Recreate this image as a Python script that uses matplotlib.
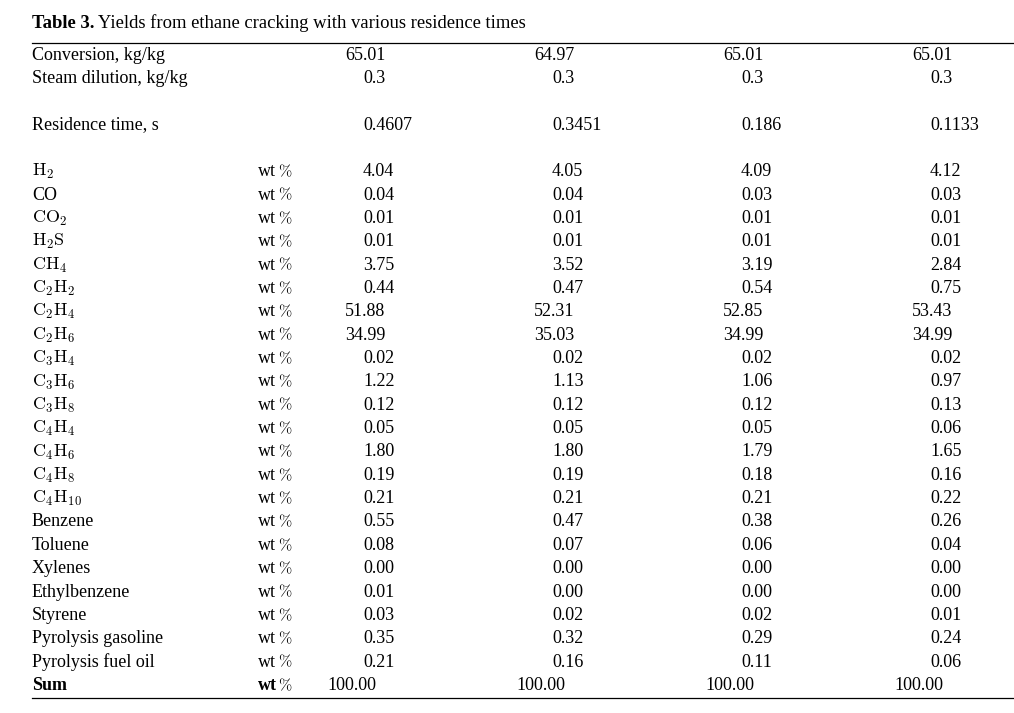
import matplotlib
matplotlib.use("Agg")
import matplotlib.pyplot as plt

plt.rcParams['font.family'] = ['Liberation Serif', 'DejaVu Serif']
plt.rcParams['mathtext.fontset'] = 'cm'

title_bold = "Table 3."
title_rest = " Yields from ethane cracking with various residence times"

conversion = ["65.01", "64.97", "65.01", "65.01"]
steam = ["0.3", "0.3", "0.3", "0.3"]
residence = ["0.4607", "0.3451", "0.186", "0.1133"]

species = [r"$\mathrm{H_2}$", "CO", r"$\mathrm{CO_2}$", r"$\mathrm{H_2S}$", r"$\mathrm{CH_4}$",
           r"$\mathrm{C_2H_2}$", r"$\mathrm{C_2H_4}$", r"$\mathrm{C_2H_6}$", r"$\mathrm{C_3H_4}$",
           r"$\mathrm{C_3H_6}$", r"$\mathrm{C_3H_8}$", r"$\mathrm{C_4H_4}$", r"$\mathrm{C_4H_6}$",
           r"$\mathrm{C_4H_8}$", r"$\mathrm{C_4H_{10}}$", "Benzene", "Toluene", "Xylenes",
           "Ethylbenzene", "Styrene", "Pyrolysis gasoline", "Pyrolysis fuel oil"]

col1 = ["4.04", "0.04", "0.01", "0.01", "3.75", "0.44", "51.88", "34.99", "0.02", "1.22", "0.12",
        "0.05", "1.80", "0.19", "0.21", "0.55", "0.08", "0.00", "0.01", "0.03", "0.35", "0.21"]
col2 = ["4.05", "0.04", "0.01", "0.01", "3.52", "0.47", "52.31", "35.03", "0.02", "1.13", "0.12",
        "0.05", "1.80", "0.19", "0.21", "0.47", "0.07", "0.00", "0.00", "0.02", "0.32", "0.16"]
col3 = ["4.09", "0.03", "0.01", "0.01", "3.19", "0.54", "52.85", "34.99", "0.02", "1.06", "0.12",
        "0.05", "1.79", "0.18", "0.21", "0.38", "0.06", "0.00", "0.00", "0.02", "0.29", "0.11"]
col4 = ["4.12", "0.03", "0.01", "0.01", "2.84", "0.75", "53.43", "34.99", "0.02", "0.97", "0.13",
        "0.06", "1.65", "0.16", "0.22", "0.26", "0.04", "0.00", "0.00", "0.01", "0.24", "0.06"]
sums = ["100.00", "100.00", "100.00", "100.00"]

W, H = 1014, 713
fig = plt.figure(figsize=(W / 100, H / 100), dpi=100)
ax = fig.add_axes([0, 0, 1, 1])
ax.set_xlim(0, W)
ax.set_ylim(H, 0)
ax.axis('off')

FS = 13.0
FS_TITLE = 13.4
x_label = 32
x_unit = 258
x_pct = 278
col_x = [363, 552, 741, 930]
digit_shift = 18
y0 = 54
dy = 23.35
base_off = 5.5

def ry(i):
    return y0 + i * dy + base_off

def txt(x, y, s, **kw):
    kw.setdefault('fontsize', FS)
    return ax.text(x, y, s, ha='left', va='baseline', **kw)

def put_num(s, c, y):
    ndig = len(s.split('.')[0])
    txt(col_x[c] - digit_shift * (ndig - 1), y, s)

def put_unit(y, bold=False):
    txt(x_unit, y, "wt", fontweight='bold' if bold else 'normal')
    txt(x_pct, y, r"$\%$", fontsize=FS * 0.88)

# title
t1 = txt(x_label, 27.5, title_bold, fontweight='bold', fontsize=FS_TITLE)
fig.canvas.draw()
bb = t1.get_window_extent(renderer=fig.canvas.get_renderer())
x1 = ax.transData.inverted().transform((bb.x1, bb.y0))[0]
txt(x1, 27.5, title_rest, fontsize=FS_TITLE)

# rules
ax.plot([x_label, W], [43, 43], color='black', lw=0.9)
ax.plot([x_label, W], [698, 698], color='black', lw=0.9)

# header rows
txt(x_label, ry(0), "Conversion, kg/kg")
txt(x_label, ry(1), "Steam dilution, kg/kg")
txt(x_label, ry(3), "Residence time, s")
for c in range(4):
    put_num(conversion[c], c, ry(0))
    put_num(steam[c], c, ry(1))
    put_num(residence[c], c, ry(3))

cols = [col1, col2, col3, col4]
for i, name in enumerate(species):
    y = ry(5 + i)
    txt(x_label, y, name)
    put_unit(y)
    for c in range(4):
        put_num(cols[c][i], c, y)

ys = ry(5 + len(species))
txt(x_label, ys, "Sum", fontweight='bold')
put_unit(ys, bold=True)
for c in range(4):
    put_num(sums[c], c, ys)

fig.savefig("out.png", dpi=100, facecolor='white')
